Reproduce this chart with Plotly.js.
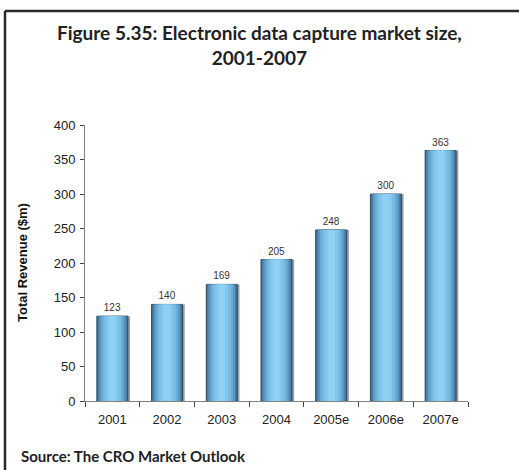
<!DOCTYPE html>
<html>
<head>
<meta charset="utf-8">
<script src="https://cdn.plot.ly/plotly-3.0.1.min.js"></script>
<style>
html,body{margin:0;padding:0;background:#fff;}
#chart{width:519px;height:470px;}
</style>
</head>
<body>
<div id="chart"></div>
<script>
// Data
const categories = ["2001", "2002", "2003", "2004", "2005e", "2006e", "2007e"];
const revenue = [123, 140, 169, 205, 248, 300, 363];
const titleText = "Figure 5.35: Electronic data capture market size,<br>2001-2007";
const yTitle = "Total Revenue ($m)";
const sourceText = "Source: The CRO Market Outlook";

// Styling for the cylinder-like gradient (layers of overlaid bars)
const barWidth = 0.567;
const layerWidths = [0.567, 0.53, 0.48, 0.41, 0.33, 0.23, 0.12];
const layerColors = ['#3b6485', '#4a7ea5', '#5a96c0', '#6aabd6', '#78bce4', '#84c8ee', '#8ed1f4'];
const sansFont = 'Arial';

const traces = [];
// shadow
traces.push({
  type: 'bar', x: categories, y: revenue,
  width: barWidth, offset: -barWidth / 2 + 0.04,
  marker: {color: '#a0a0a0', line: {width: 0}},
  hoverinfo: 'skip', showlegend: false
});
layerWidths.forEach((w, i) => {
  const t = {
    type: 'bar', x: categories, y: revenue,
    width: w, offset: -w / 2,
    marker: {color: layerColors[i], line: {width: 0}},
    hoverinfo: 'skip', showlegend: false
  };
  if (i === 0) {
    t.marker.line = {width: 1, color: '#2e4f68'};
    t.text = revenue.map(String);
    t.textposition = 'outside';
    t.textfont = {family: sansFont, size: 10, color: '#333'};
    t.cliponaxis = false;
  }
  traces.push(t);
});

const px2x = p => (p - 85) / 383;
const py2y = p => (401 - p) / 276;

const layout = {
  width: 519, height: 470,
  margin: {l: 85, r: 51, t: 125, b: 69},
  paper_bgcolor: '#fff', plot_bgcolor: '#fff',
  barmode: 'overlay',
  xaxis: {
    type: 'category', range: [-0.5, 6.5],
    showline: true, linecolor: '#808080', linewidth: 1,
    ticks: 'outside', tickson: 'boundaries', ticklen: 5, tickcolor: '#444',
    tickfont: {family: sansFont, size: 13, color: '#222'},
    ticklabelstandoff: 6,
    showgrid: false, zeroline: false, fixedrange: true
  },
  yaxis: {
    range: [0, 400], dtick: 50,
    showline: true, linecolor: '#808080', linewidth: 1,
    ticks: 'outside', ticklen: 4, tickcolor: '#444',
    tickfont: {family: sansFont, size: 13, color: '#222'},
    ticklabelstandoff: 2,
    showgrid: false, zeroline: false, fixedrange: true
  },
  annotations: [
    {
      text: '<b>' + titleText + '</b>',
      xref: 'paper', yref: 'paper', x: px2x(259.5), y: py2y(19),
      xanchor: 'center', yanchor: 'top', showarrow: false, align: 'center',
      font: {family: 'Lato', size: 19, color: '#222'}
    },
    {
      text: '<b>' + yTitle + '</b>', textangle: -90,
      xref: 'paper', yref: 'paper', x: px2x(22), y: 0.5,
      xanchor: 'center', yanchor: 'middle', showarrow: false,
      font: {family: sansFont, size: 13, color: '#111'}
    },
    {
      text: '<b>' + sourceText + '</b>',
      xref: 'paper', yref: 'paper', x: px2x(19), y: py2y(456),
      xanchor: 'left', yanchor: 'middle', showarrow: false,
      font: {family: 'Lato', size: 15, color: '#222'}
    }
  ],
  shapes: [
    {type: 'line', xref: 'paper', yref: 'paper', x0: px2x(5), x1: px2x(520), y0: py2y(11), y1: py2y(11),
     line: {color: '#2a2a2a', width: 2.5}},
    {type: 'line', xref: 'paper', yref: 'paper', x0: px2x(5), x1: px2x(5), y0: py2y(11), y1: py2y(472),
     line: {color: '#2a2a2a', width: 2.5}}
  ]
};

Plotly.newPlot('chart', traces, layout, {displayModeBar: false, staticPlot: true});
</script>
</body>
</html>
